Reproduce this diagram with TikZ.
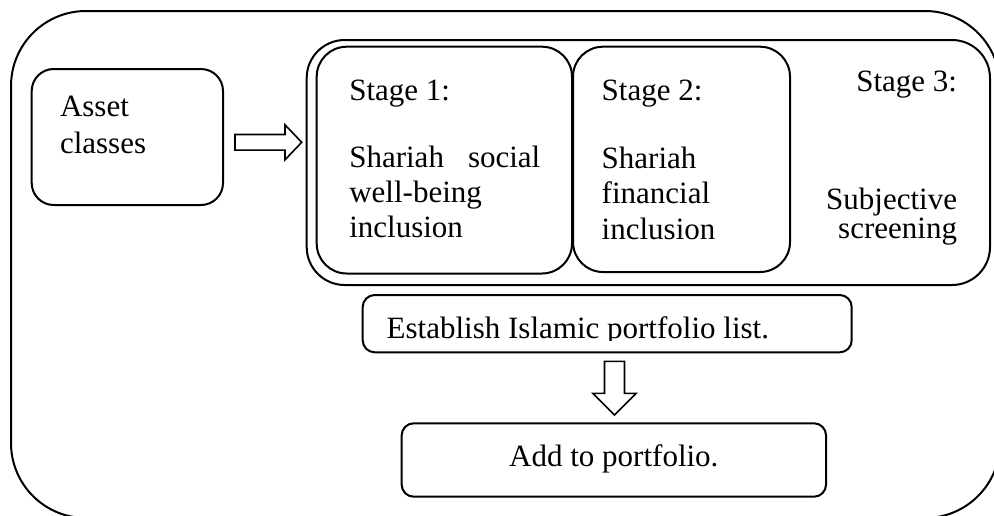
\documentclass[tikz,border=0pt]{standalone}
\usepackage{fontspec}
\setmainfont{Liberation Serif}
\usetikzlibrary{calc}
\begin{document}
\begin{tikzpicture}[x=1pt,y=-1pt,
  box/.style={draw, line width=2pt, rounded corners=#1, inner sep=0pt, outer sep=0pt},
  box/.default=12pt,
  txt/.style={inner sep=0pt, outer sep=0pt, font=\fontsize{31}{35}\selectfont},
  blockarr/.style={draw, line width=1.6pt, line join=miter, fill=white}]
\useasboundingbox (0,0) rectangle (994,515);
\clip (0,0) rectangle (994,515);

% outer frame
\node[box=75pt, minimum width=989pt, minimum height=507pt] (outer) at (505.5,264.5) {};

% asset classes
\node[box=22pt, minimum width=191.3pt, minimum height=136pt] (asset) at (127.35,137) {};
\node[txt, anchor=base west, font=\fontsize{31}{36.6}\selectfont] (tasset) at (60,116.7)
  {\begin{tabular}[t]{@{}l@{}}Asset\\classes\end{tabular}};

% stage container
\node[box=38pt, minimum width=683.3pt, minimum height=245pt] (cont) at (648.35,162.5) {};
\node[box=30pt, minimum width=255.3pt, minimum height=226.8pt] (s1) at (444.35,160.1) {};
\node[box=30pt, minimum width=217pt, minimum height=225.3pt] (s2) at (681.5,159.35) {};

\node[txt, anchor=base west, font=\fontsize{31}{35.2}\selectfont] (ts1) at (349.3,100)
  {\begin{tabular}[t]{@{}l@{}}Stage 1:\\[31.8pt]\hbox to 191pt{Shariah\hfill social}\\well-being\\inclusion\end{tabular}};
\node[txt, anchor=base west, font=\fontsize{31}{35.5}\selectfont] (ts2) at (601.7,100)
  {\begin{tabular}[t]{@{}l@{}}Stage 2:\\[32.5pt]Shariah\\financial\\inclusion\end{tabular}};
\node[txt, anchor=base east, font=\fontsize{31}{27}\selectfont] (ts3) at (957,91)
  {\begin{tabular}[t]{@{}r@{}}Stage 3:\\[89pt]Subjective\\screening\end{tabular}};

% establish list
\node[box=12pt, minimum width=489pt, minimum height=57.3pt] (est) at (607.2,323.65) {};
\begin{scope}
  \clip ($(est.north west)+(-5,0)$) rectangle ($(est.east)+(5,17)$);
  \node[txt, anchor=base west] (test) at (386.7,338) {Establish Islamic portfolio list.};
\end{scope}

% add to portfolio
\node[box=12pt, minimum width=424.3pt, minimum height=73.4pt] (add) at (613.85,460) {};
\node[txt, anchor=base] (tadd) at ($(add.center)+(0,6.7)$) {Add to portfolio.};

% block arrows
\coordinate (a1) at ($(asset.east)+(12,5.3)$);
\coordinate (a2) at ($(cont.west |- a1)+(-5,0)$);
\draw[blockarr] ($(a1)+(0,-7.8)$) -- ($(a2)+(-16.7,-7.8)$) -- ($(a2)+(-16.7,-17.5)$)
  -- (a2) -- ($(a2)+(-16.7,17.5)$) -- ($(a2)+(-16.7,7.8)$) -- ($(a1)+(0,7.8)$) -- cycle;

\coordinate (d1) at ($(est.south)+(7.3,9)$);
\coordinate (d2) at ($(add.north -| d1)+(0,-8.3)$);
\draw[blockarr] ($(d1)+(-10,0)$) -- ($(d2)+(-10,-21.7)$) -- ($(d2)+(-21.8,-21.7)$)
  -- (d2) -- ($(d2)+(21.8,-21.7)$) -- ($(d2)+(10,-21.7)$) -- ($(d1)+(10,0)$) -- cycle;
\end{tikzpicture}
\end{document}
